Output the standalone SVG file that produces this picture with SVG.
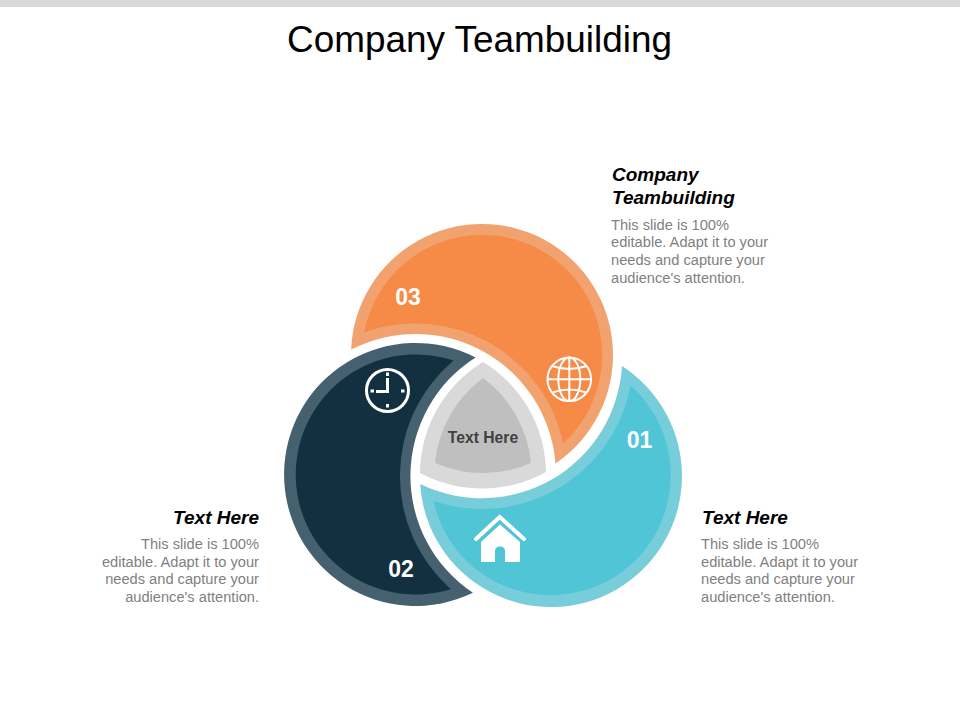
<svg xmlns="http://www.w3.org/2000/svg" width="960" height="720" viewBox="0 0 960 720">
<style>
text{font-family:"Liberation Sans",Arial,sans-serif}
.title{font-size:36.9px;fill:#000;text-anchor:middle}
.head{font-size:19px;font-weight:bold;font-style:italic;fill:#000}
.body{font-size:14.65px;fill:#7f7f7f}
.num{font-size:23px;font-weight:bold;fill:#fff;text-anchor:middle}
.end{text-anchor:end}
.ic{fill:none;stroke:#fff}
</style>
<rect x="0" y="0" width="960" height="7" fill="#d9d9d9"/>
<text class="title" x="479.500" y="52">Company Teambuilding</text>

<g id="node-center">
<path d="M483 362A131 131 0 0 1 546 472A132 132 0 0 1 420 473A131 131 0 0 1 483 362Z" fill="#d9d9d9"/>
<path d="M483 378A120 120 0 0 1 531 463A120 120 0 0 1 435 463A120 120 0 0 1 483 378Z" fill="#bfbfbf"/>
<text x="483" y="442.500" font-size="15.7" font-weight="bold" fill="#404040" text-anchor="middle">Text Here</text>
</g>

<g id="node-03">
<path d="M351.1 349.6A131 131 0 1 1 555.5 463.4A140.5 140.5 0 0 0 351.1 349.6Z" fill="#f2a26f"/>
<path d="M364.2 332.5A120 120 0 1 1 563.2 443.3A151 151 0 0 0 364.2 332.5Z" fill="#f68a47"/>
<text class="num" x="408" y="305">03</text>
<g class="ic" stroke-width="2">
<circle cx="569.3" cy="379.3" r="21.8"/>
<ellipse cx="569.3" cy="379.3" rx="11" ry="21.8"/>
<path d="M569.3 357.5V401.1M547.5 379.3H591.1M552 366Q569.3 372 586.6 366M552 392.6Q569.3 386.6 586.6 392.6"/>
</g>
</g>

<g id="node-02">
<path d="M472.9 592.8A131.5 131.5 0 1 1 475.5 357.4A140.5 140.5 0 0 0 472.9 592.8Z" fill="#45606e"/>
<path d="M451 589.2A120 120 0 1 1 453.5 360.6A151 151 0 0 0 451 589.2Z" fill="#12303f"/>
<text class="num" x="401" y="577">02</text>
<g class="ic">
<circle cx="387.5" cy="390.5" r="21" stroke-width="3"/>
<path d="M387.5 378V391.5H376" stroke-width="3"/>
<path d="M387.5 372.5V376M387.5 404V407.5M370.5 391H374M401 391H404.5" stroke-width="3"/>
</g>
</g>

<g id="node-01">
<path d="M622 366A131 131 0 1 1 420.2 484A140.5 140.5 0 0 0 622 366Z" fill="#78cddb"/>
<path d="M630.5 385.6A120 120 0 1 1 433.5 501A151 151 0 0 0 630.5 385.6Z" fill="#4fc5d6"/>
<text class="num" x="639.500" y="448">01</text>
<g>
<path d="M476 539L499.700 517L524 539" fill="none" stroke="#fff" stroke-width="4" stroke-linecap="round" stroke-linejoin="miter"/>
<path d="M500 524.500L520 542V562H505V551Q505 546.500 500 546.500Q495 546.500 495 551V562H481V542Z" fill="#fff"/>
</g>
</g>

<g id="label-top">
<text class="head" x="612" y="181">Company</text>
<text class="head" x="612" y="204">Teambuilding</text>
<text class="body" x="611" y="230">This slide is 100%</text>
<text class="body" x="611" y="247">editable. Adapt it to your</text>
<text class="body" x="611" y="265">needs and capture your</text>
<text class="body" x="611" y="283">audience's attention.</text>
</g>
<g id="label-left">
<text class="head end" x="259" y="524">Text Here</text>
<text class="body end" x="259" y="549">This slide is 100%</text>
<text class="body end" x="259" y="567">editable. Adapt it to your</text>
<text class="body end" x="259" y="584">needs and capture your</text>
<text class="body end" x="259" y="602">audience's attention.</text>
</g>
<g id="label-right">
<text class="head" x="702" y="524">Text Here</text>
<text class="body" x="701" y="549">This slide is 100%</text>
<text class="body" x="701" y="567">editable. Adapt it to your</text>
<text class="body" x="701" y="584">needs and capture your</text>
<text class="body" x="701" y="602">audience's attention.</text>
</g>
</svg>
